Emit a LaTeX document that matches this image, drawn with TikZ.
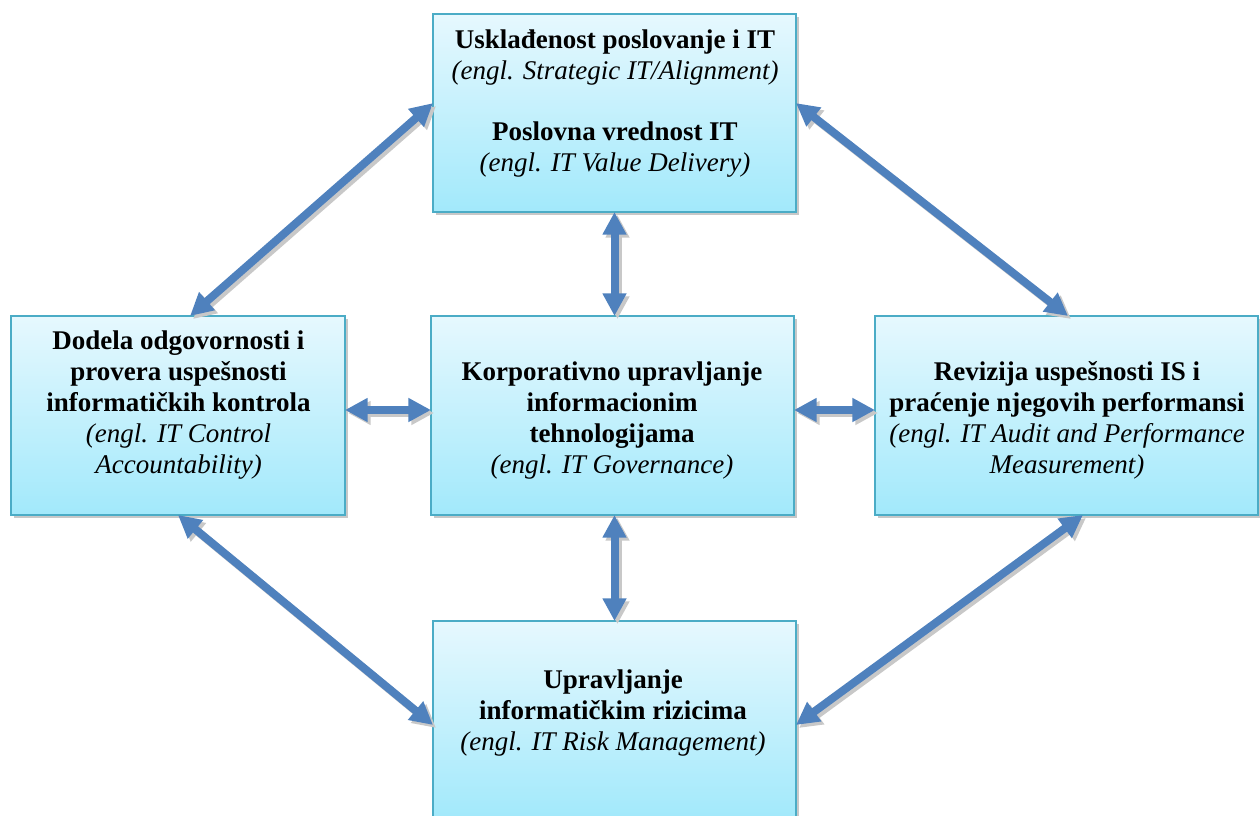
\documentclass[tikz,border=0pt]{standalone}
\usepackage{fontspec}
\setmainfont{Liberation Serif}
\usetikzlibrary{arrows.meta,calc,shadows}
\definecolor{arrowblue}{HTML}{4F81BD}
\definecolor{boxedge}{HTML}{4BACC6}
\definecolor{boxtop}{HTML}{E6F8FE}
\definecolor{boxbottom}{HTML}{A2E9FB}
\definecolor{shade}{HTML}{C8C8C8}
\begin{document}
\begin{tikzpicture}[x=0.75pt,y=-0.75pt,
  >={Triangle[width=17pt,length=17pt]},
  box/.style={rectangle, draw=boxedge, line width=1.5pt,
    top color=boxtop, bottom color=boxbottom,
    outer sep=0pt, inner sep=0pt,
    drop shadow={shadow xshift=2.25pt, shadow yshift=-2.25pt, fill=shade, opacity=1}},
  caption/.style={align=center, inner sep=0pt,
    font=\fontsize{20.25}{23.25}\selectfont},
  link/.style={<->, line width=6pt, draw=arrowblue},
  linkshadow/.style={<->, line width=6pt, draw=shade,
    transform canvas={shift={(2.25pt,-2.25pt)}}},
]
\useasboundingbox (0,0) rectangle (1260,816);

% boxes
\node[box, minimum width=272.25pt, minimum height=148.5pt]  (top)    at (614.5,113)   {};
\node[box, minimum width=250.5pt,  minimum height=149.25pt] (left)   at (178,415.5)   {};
\node[box, minimum width=272.25pt, minimum height=149.25pt] (centre) at (612.5,415.5) {};
\node[box, minimum width=287.25pt, minimum height=149.25pt] (right)  at (1066.5,415.5){};
\node[box, minimum width=272.25pt, minimum height=148.5pt]  (bottom) at (614.5,720)   {};

% box texts
\node[caption] (topT) at (615,103.5) {\textbf{Usklađenost poslovanje i IT}\\
  \textit{(engl. Strategic IT/Alignment)}\\[23pt]
  \textbf{Poslovna vrednost IT}\\
  \textit{(engl. IT Value Delivery)}};
\node[caption] (leftT) at (178.5,405) {\textbf{Dodela odgovornosti i}\\
  \textbf{provera uspešnosti}\\
  \textbf{informatičkih kontrola}\\
  \textit{(engl. IT Control}\\
  \textit{Accountability)}};
\node[caption] (centreT) at (612,420.5) {\textbf{Korporativno upravljanje}\\
  \textbf{informacionim}\\
  \textbf{tehnologijama}\\
  \textit{(engl. IT Governance)}};
\node[caption] (rightT) at (1067,420.5) {\textbf{Revizija uspešnosti IS i}\\
  \textbf{praćenje njegovih performansi}\\
  \textit{(engl. IT Audit and Performance}\\
  \textit{Measurement)}};
\node[caption] (bottomT) at (613,713.5) {\textbf{Upravljanje}\\
  \textbf{informatičkim rizicima}\\
  \textit{(engl. IT Risk Management)}};

% arrow end points on the box borders
\coordinate (topW)    at ($(top.north west)!0.45!(top.south west)$);
\coordinate (topE)    at ($(top.north east)!0.45!(top.south east)$);
\coordinate (topS)    at ($(top.south west)!0.5!(top.south east)$);
\coordinate (leftN)   at ($(left.north west)!0.536!(left.north east)$);
\coordinate (leftS)   at (left.south);
\coordinate (leftE)   at ($(left.east)+(0,-5.5)$);
\coordinate (centreW) at ($(centre.west)+(0,-5.5)$);
\coordinate (centreE) at ($(centre.east)+(0,-5.5)$);
\coordinate (centreN) at (topS |- centre.north);
\coordinate (centreS) at (topS |- centre.south);
\coordinate (rightW)  at ($(right.west)+(0,-5.5)$);
\coordinate (rightN)  at ($(right.north west)!0.504!(right.north east)$);
\coordinate (rightS)  at ($(right.south west)!0.543!(right.south east)$);
\coordinate (bottomN) at (topS |- bottom.north);
\coordinate (bottomW) at ($(bottom.north west)!0.525!(bottom.south west)$);
\coordinate (bottomE) at ($(bottom.north east)!0.525!(bottom.south east)$);

% double-headed connectors with their shadows
\foreach \a/\b in {topW/leftN, topE/rightN, topS/centreN, centreS/bottomN,
                   leftE/centreW, centreE/rightW, leftS/bottomW, rightS/bottomE}
  \draw[linkshadow] (\a) -- (\b);
\foreach \a/\b in {topW/leftN, topE/rightN, topS/centreN, centreS/bottomN,
                   leftE/centreW, centreE/rightW, leftS/bottomW, rightS/bottomE}
  \draw[link] (\a) -- (\b);
\end{tikzpicture}
\end{document}
